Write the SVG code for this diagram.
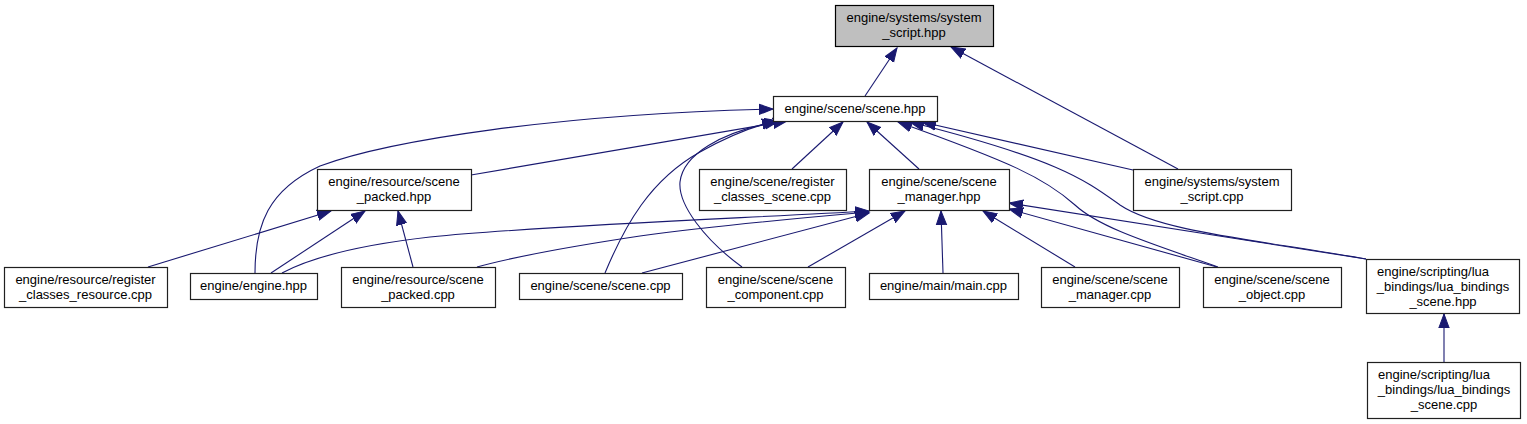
<svg xmlns="http://www.w3.org/2000/svg" width="1527" height="424" viewBox="0 0 1527 424">
<style>
.bg{fill:#ffffff}
.box{fill:#ffffff;stroke:#202020;stroke-width:1.2}
.root{fill:#bfbfbf;stroke:#000000;stroke-width:1.2}
text{font-family:"Liberation Sans",Arial,sans-serif;font-size:13px;fill:#000000;text-anchor:middle}
text.l{text-anchor:start}
.e{fill:none;stroke:#191970;stroke-width:1.1;marker-end:url(#ah)}
</style>
<defs>
<marker id="ah" markerWidth="16" markerHeight="13" refX="14" refY="6.5" orient="auto" markerUnits="userSpaceOnUse">
<path d="M0,1.3 L14,6.5 L0,11.7 Z" fill="#191970" stroke="#191970" stroke-width="1"/>
</marker>
</defs>
<rect class="bg" x="0" y="0" width="1527" height="424"/>
<g id="connectors">
<path class="e" d="M865,96 L897,48"/>
<path class="e" d="M1178,169 L951,47"/>
<path class="e" d="M792,169 L843,122"/>
<path class="e" d="M919,169 L867,122"/>
<path class="e" d="M471,175 L787,121"/>
<path class="e" d="M255,273 C255,225 268,190 320,166 C390,140 560,114 773,109"/>
<path class="e" d="M605,273 C625,225 650,180 700,152 C725,138 750,127 776,121"/>
<path class="e" d="M742,267 C705,240 678,205 680,182 C683,155 720,132 779,121"/>
<path class="e" d="M1133,170 L922,122"/>
<path class="e" d="M1218,267 C1150,243 1100,228 1075,205 C1045,178 1010,162 898,122"/>
<path class="e" d="M1366,259 C1260,240 1160,232 1120,205 C1085,180 1060,160 910,122"/>
<path class="e" d="M282,273 C310,258 360,245 430,237 C550,225 750,218 869,211"/>
<path class="e" d="M477,267 C510,258 560,248 640,236 C720,225 800,218 869,212"/>
<path class="e" d="M642,273 L869,213"/>
<path class="e" d="M808,267 L905,211"/>
<path class="e" d="M943,273 L941,211"/>
<path class="e" d="M1075,267 L983,211"/>
<path class="e" d="M1217,267 L1009,209"/>
<path class="e" d="M1366,259 L1009,203"/>
<path class="e" d="M148,267 L331,211"/>
<path class="e" d="M271,273 L365,211"/>
<path class="e" d="M413,267 L398,211"/>
<path class="e" d="M1444,362 L1444,314"/>
</g>
<g id="n_system_script_hpp">
<rect class="root" x="835.5" y="5.5" width="158" height="41"/>
<text x="914" y="22">engine/systems/system</text>
<text x="914" y="37">_script.hpp</text>
</g>
<g id="n_scene_hpp">
<rect class="box" x="773.5" y="96.5" width="164" height="25"/>
<text x="855" y="113">engine/scene/scene.hpp</text>
</g>
<g id="n_scene_packed_hpp">
<rect class="box" x="317.5" y="169.5" width="154" height="41"/>
<text x="394" y="186">engine/resource/scene</text>
<text x="394" y="201">_packed.hpp</text>
</g>
<g id="n_register_classes_scene_cpp">
<rect class="box" x="699.5" y="169.5" width="147" height="41"/>
<text x="772.5" y="186">engine/scene/register</text>
<text x="772.5" y="201">_classes_scene.cpp</text>
</g>
<g id="n_scene_manager_hpp">
<rect class="box" x="869.5" y="169.5" width="140" height="41"/>
<text x="939" y="186">engine/scene/scene</text>
<text x="939" y="201">_manager.hpp</text>
</g>
<g id="n_system_script_cpp">
<rect class="box" x="1133.5" y="169.5" width="158" height="41"/>
<text x="1212" y="186">engine/systems/system</text>
<text x="1212" y="201">_script.cpp</text>
</g>
<g id="n_register_classes_resource_cpp">
<rect class="box" x="4.5" y="267.5" width="163" height="40"/>
<text x="85.5" y="284">engine/resource/register</text>
<text x="85.5" y="299">_classes_resource.cpp</text>
</g>
<g id="n_engine_hpp">
<rect class="box" x="190.5" y="273.5" width="127" height="26"/>
<text x="253.5" y="290">engine/engine.hpp</text>
</g>
<g id="n_scene_packed_cpp">
<rect class="box" x="341.5" y="267.5" width="154" height="40"/>
<text x="418" y="284">engine/resource/scene</text>
<text x="418" y="299">_packed.cpp</text>
</g>
<g id="n_scene_cpp">
<rect class="box" x="519.5" y="273.5" width="163" height="26"/>
<text x="600.5" y="290">engine/scene/scene.cpp</text>
</g>
<g id="n_scene_component_cpp">
<rect class="box" x="706.5" y="267.5" width="139" height="40"/>
<text x="775.5" y="284">engine/scene/scene</text>
<text x="775.5" y="299">_component.cpp</text>
</g>
<g id="n_main_cpp">
<rect class="box" x="869.5" y="273.5" width="149" height="26"/>
<text x="943.5" y="290">engine/main/main.cpp</text>
</g>
<g id="n_scene_manager_cpp">
<rect class="box" x="1041.5" y="267.5" width="138" height="40"/>
<text x="1110" y="284">engine/scene/scene</text>
<text x="1110" y="299">_manager.cpp</text>
</g>
<g id="n_scene_object_cpp">
<rect class="box" x="1203.5" y="267.5" width="138" height="40"/>
<text x="1272" y="284">engine/scene/scene</text>
<text x="1272" y="299">_object.cpp</text>
</g>
<g id="n_lua_bindings_scene_hpp">
<rect class="box" x="1366.5" y="259.5" width="153" height="54"/>
<text class="l" x="1377" y="275.5">engine/scripting/lua</text>
<text x="1443" y="290.5">_bindings/lua_bindings</text>
<text x="1443" y="305.5">_scene.hpp</text>
</g>
<g id="n_lua_bindings_scene_cpp">
<rect class="box" x="1367.5" y="362.5" width="153" height="56"/>
<text class="l" x="1378" y="379">engine/scripting/lua</text>
<text x="1444" y="394">_bindings/lua_bindings</text>
<text x="1444" y="409">_scene.cpp</text>
</g>
</svg>
